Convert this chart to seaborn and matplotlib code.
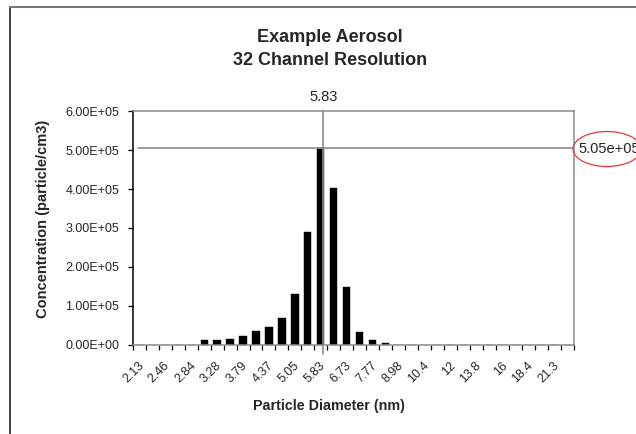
import matplotlib
matplotlib.use("Agg")
import matplotlib.pyplot as plt
import matplotlib.transforms as mtransforms
from matplotlib.patches import Ellipse
from matplotlib.lines import Line2D
import seaborn as sns
import pandas as pd
import numpy as np

# ---- data ----
diameters = ["2.13", "2.29", "2.46", "2.64", "2.84", "3.05", "3.28", "3.52", "3.79", "4.07",
             "4.37", "4.70", "5.05", "5.43", "5.83", "6.26", "6.73", "7.23", "7.77", "8.35",
             "8.98", "9.65", "10.4", "11.1", "12", "12.9", "13.8", "14.9", "16", "17.2",
             "18.4", "19.8", "21.3", "22.9"]
concentration = [0, 0, 0, 0, 0, 1.1e4, 1.1e4, 1.45e4, 2.3e4, 3.4e4,
                 4.4e4, 6.7e4, 1.30e5, 2.90e5, 5.05e5, 4.03e5, 1.48e5, 3.3e4, 1.1e4, 3.0e3,
                 0, 0, 0, 0, 0, 0, 0, 0, 0, 0,
                 0, 0, 0, 0]
y_ticks = [0, 1e5, 2e5, 3e5, 4e5, 5e5, 6e5]
title_lines = ["Example Aerosol", "32 Channel Resolution"]
x_label = "Particle Diameter (nm)"
y_label = "Concentration (particle/cm3)"

df = pd.DataFrame({"diameter": diameters, "conc": concentration})

sns.set_style("white")
plt.rcParams["font.family"] = ["Liberation Sans", "DejaVu Sans"]

W, H = 636, 434
fig = plt.figure(figsize=(W / 100, H / 100), dpi=100)
ax = fig.add_axes([132.7 / W, 1 - 344.5 / H, (574 - 132.7) / W, (344.5 - 111.4) / H])

sns.barplot(data=df, x="diameter", y="conc", order=diameters, color="black",
            width=0.55, saturation=1, ax=ax, errorbar=None, zorder=2,
            edgecolor="black", linewidth=0.3)

n = len(diameters)
ax.set_xlim(-0.5, n - 0.5)
ax.set_ylim(0, 6e5)

# spines
for s in ["top", "right"]:
    ax.spines[s].set_visible(True)
    ax.spines[s].set_color("#8c8c8c")
    ax.spines[s].set_linewidth(1.1)
ax.spines["left"].set_color("black")
ax.spines["left"].set_linewidth(1.1)
ax.spines["bottom"].set_color("#8c8c8c")
ax.spines["bottom"].set_linewidth(1.1)

# y ticks
ax.set_yticks(y_ticks)
ax.set_yticklabels([f"{v:.2E}" for v in y_ticks], fontsize=9)
ax.tick_params(axis="y", which="major", direction="out", length=3.6, width=0.9,
               color="black", pad=6.2, left=True)

# x ticks: major at category boundaries (no labels), minor at every other category with labels
ax.set_xticks(np.arange(-0.5, n, 1.0))
ax.set_xticklabels([""] * len(np.arange(-0.5, n, 1.0)))
ax.tick_params(axis="x", which="major", direction="out", length=3.6, width=0.9,
               color="black", bottom=True)
lab_pos = list(range(0, n - 1, 2))
ax.set_xticks(lab_pos, minor=True)
ax.set_xticklabels([diameters[i] for i in lab_pos], minor=True, fontsize=9,
                   rotation=45, ha="right", va="center", rotation_mode="anchor")
ax.tick_params(axis="x", which="minor", length=0, pad=14)
off = mtransforms.ScaledTranslation(2 / 72, 0, fig.dpi_scale_trans)
for lbl in ax.get_xticklabels(minor=True):
    lbl.set_transform(lbl.get_transform() + off)

ax.set_xlabel("")
ax.set_ylabel("")
ax.grid(False)

# cursor lines at the peak (drawn just right of the bar centre, as in the original)
peak_idx = int(np.argmax(concentration))
peak_val = concentration[peak_idx]
cursor_x = peak_idx + 0.18
ax.plot([cursor_x, cursor_x], [-0.25e5, 6e5], color="#8c8c8c", lw=1.2, clip_on=False, zorder=3)
ax.axhline(peak_val, xmin=0.012, xmax=1, color="#8c8c8c", lw=1.2, zorder=3)
ax.text(cursor_x, 6e5 + 0.38e5, diameters[peak_idx], ha="center", va="center", fontsize=10.5)

# value label with red ellipse at the right
fig.text(578 / W, 1 - 149 / H, f"{peak_val:.2e}", ha="left", va="center", fontsize=10.5)
fig.patches.append(Ellipse((607 / W, 1 - 149 / H), 68 / W, 35 / H,
                           transform=fig.transFigure, fill=False,
                           edgecolor="#e8383d", lw=0.9))

# titles and axis labels
fig.text(330 / W, 1 - 37 / H, title_lines[0], ha="center", va="center",
         fontsize=13, fontweight="bold")
fig.text(330 / W, 1 - 60 / H, title_lines[1], ha="center", va="center",
         fontsize=13, fontweight="bold")
fig.text(329 / W, 1 - 406 / H, x_label, ha="center", va="center",
         fontsize=10.3, fontweight="bold")
fig.text(43.5 / W, 1 - 219 / H, y_label, ha="center", va="center", rotation=90,
         fontsize=10.5, fontweight="bold")

# chart-area border (left and top edges visible)
fig.add_artist(Line2D([10 / W, 10 / W], [0, 1 - 7.3 / H], transform=fig.transFigure,
                      color="#222222", lw=1.2))
fig.add_artist(Line2D([10 / W, 1], [1 - 7.3 / H, 1 - 7.3 / H], transform=fig.transFigure,
                      color="#777777", lw=1.5))

fig.savefig("out.png", dpi=100)
